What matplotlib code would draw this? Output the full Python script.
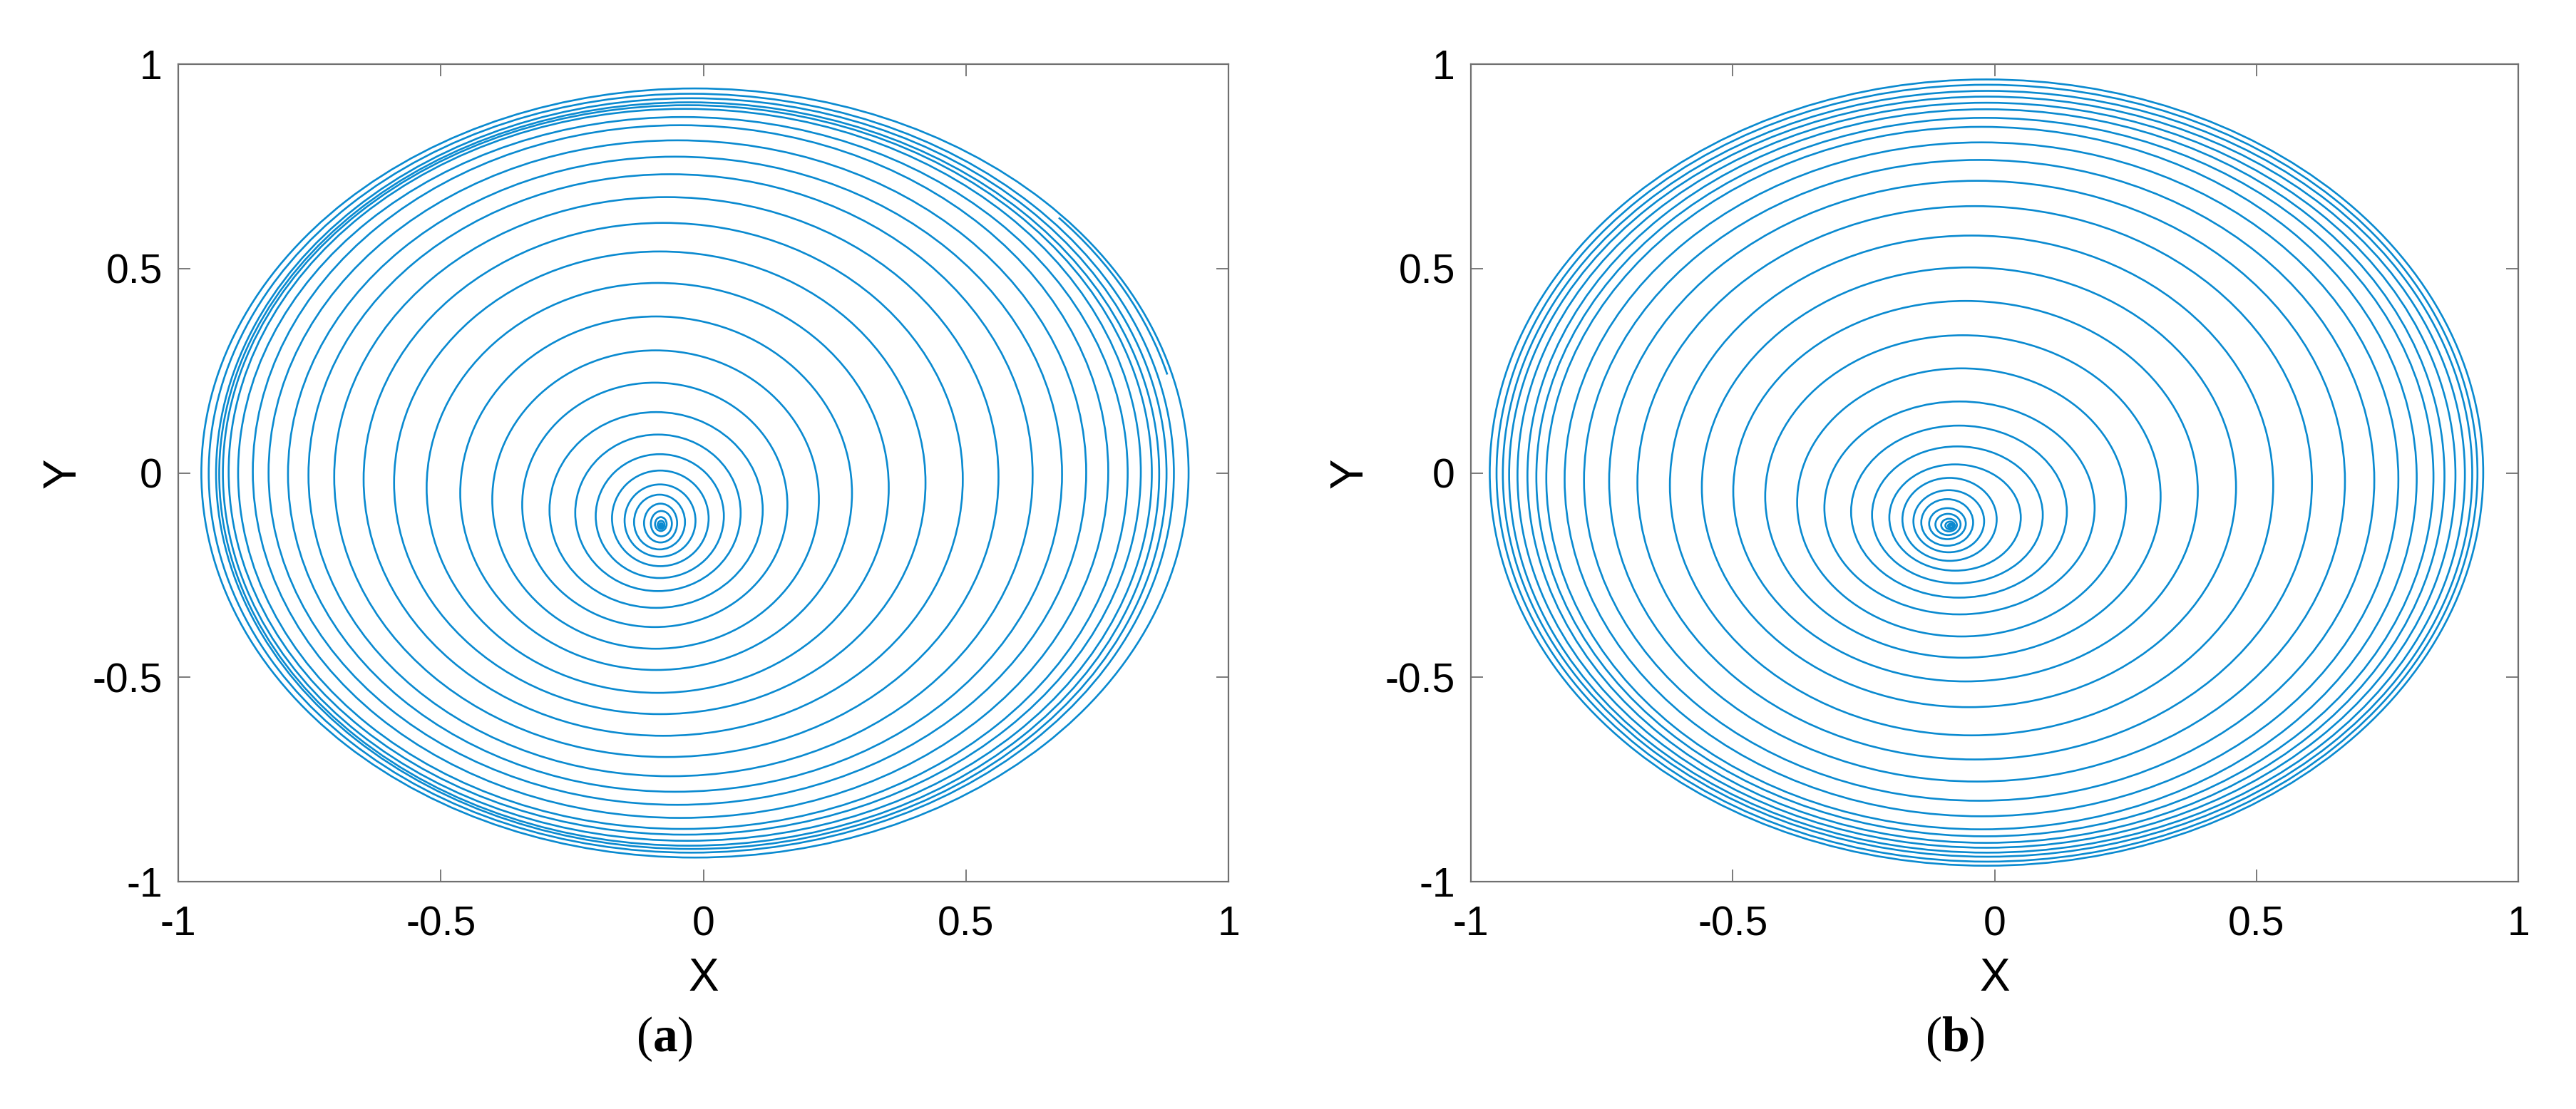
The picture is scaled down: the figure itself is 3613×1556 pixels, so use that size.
import numpy as np
import matplotlib
matplotlib.use('Agg')
import matplotlib.pyplot as plt
from matplotlib.patches import Ellipse, Arc

plt.rcParams['font.family'] = ['Liberation Sans', 'DejaVu Sans']
plt.rcParams['axes.unicode_minus'] = False
plt.rcParams['mathtext.fontset'] = 'custom'
plt.rcParams['mathtext.rm'] = 'Liberation Serif'
plt.rcParams['mathtext.bf'] = 'Liberation Serif:bold'

# ring crossings, outermost ring first
# (a)
a_right = [0.924, 0.896, 0.882, 0.868, 0.854, 0.833, 0.808, 0.771, 0.729, 0.683, 0.627, 0.562, 0.494, 0.423,
           0.353, 0.283, 0.220, 0.160, 0.113, 0.071, 0.039, 0.010, -0.015, -0.035, -0.050, -0.060, -0.070,
           -0.074, -0.077, -0.079]
a_left = [-0.956, -0.942, -0.928, -0.922, -0.915, -0.904, -0.886, -0.858, -0.828, -0.791, -0.752, -0.703, -0.647,
          -0.589, -0.527, -0.463, -0.402, -0.345, -0.293, -0.244, -0.205, -0.174, -0.150, -0.132, -0.113, -0.100,
          -0.092, -0.087, -0.084, -0.082]
a_top = [0.941, 0.928, 0.917, 0.907, 0.900, 0.891, 0.871, 0.851, 0.814, 0.774, 0.731, 0.675, 0.612, 0.542,
         0.465, 0.383, 0.300, 0.221, 0.149, 0.094, 0.046, 0.006, -0.028, -0.053, -0.075, -0.093, -0.108,
         -0.117, -0.123, -0.127]
a_bottom = [-0.941, -0.929, -0.920, -0.912, -0.900, -0.885, -0.871, -0.844, -0.812, -0.780, -0.742, -0.695, -0.643,
            -0.590, -0.538, -0.482, -0.430, -0.377, -0.330, -0.289, -0.257, -0.228, -0.205, -0.187, -0.170, -0.155,
            -0.142, -0.137, -0.134, -0.132]
# end of the trajectory in (a): ring extents (l, r, t, b) and angle range (deg)
a_tail = [-0.950, 0.915, 0.936, -0.937]
a_tail_ang = [15, 42]

# (b)
b_right = [0.933, 0.922, 0.912, 0.898, 0.880, 0.859, 0.838, 0.806, 0.771, 0.725, 0.669, 0.606, 0.532, 0.461,
           0.388, 0.317, 0.251, 0.191, 0.138, 0.092, 0.050, 0.004, -0.020, -0.041, -0.055, -0.065, -0.072,
           -0.076, -0.078, -0.080]
b_left = [-0.964, -0.951, -0.939, -0.927, -0.911, -0.892, -0.875, -0.856, -0.821, -0.784, -0.736, -0.682, -0.620,
          -0.559, -0.499, -0.438, -0.377, -0.325, -0.274, -0.234, -0.201, -0.176, -0.155, -0.140, -0.125, -0.113,
          -0.102, -0.094, -0.089, -0.086]
b_top = [0.963, 0.950, 0.935, 0.921, 0.906, 0.890, 0.869, 0.847, 0.809, 0.766, 0.715, 0.653, 0.581, 0.503,
         0.421, 0.337, 0.256, 0.175, 0.116, 0.065, 0.021, -0.012, -0.042, -0.064, -0.086, -0.100, -0.112,
         -0.119, -0.124, -0.127]
b_bottom = [-0.961, -0.951, -0.939, -0.929, -0.917, -0.905, -0.889, -0.872, -0.840, -0.802, -0.755, -0.701, -0.642,
            -0.573, -0.510, -0.452, -0.400, -0.346, -0.305, -0.270, -0.239, -0.215, -0.194, -0.178, -0.162, -0.152,
            -0.143, -0.138, -0.135, -0.133]

ticks = [-1, -0.5, 0, 0.5, 1]
tick_labels = ['-1', '-0.5', '0', '0.5', '1']
captions = ['a', 'b']

line_color = '#0a8ad0'
axis_color = '#707070'


def draw_panel(ax, left, right, top, bottom, ylab_x):
    for l, r, t, b in zip(left, right, top, bottom):
        ax.add_patch(Ellipse(((l + r) / 2, (t + b) / 2), r - l, t - b,
                             fill=False, ec=line_color, lw=1.9))
    ax.set_xlim(-1, 1)
    ax.set_ylim(-1, 1)
    ax.set_xticks(ticks)
    ax.set_xticklabels(tick_labels)
    ax.set_yticks(ticks)
    ax.set_yticklabels(tick_labels)
    ax.tick_params(direction='in', length=12, width=1.3, color=axis_color,
                   top=True, right=True, labelsize=41)
    ax.tick_params(axis='x', pad=24)
    ax.tick_params(axis='y', pad=16)
    for s in ax.spines.values():
        s.set_color(axis_color)
        s.set_linewidth(1.6)
    ax.set_xlabel('X', fontsize=46)
    ax.set_ylabel('Y', fontsize=46)
    ax.xaxis.set_label_coords(0.5, -0.092)
    ax.yaxis.set_label_coords(ylab_x, 0.5)


fig = plt.figure(figsize=(36.13, 15.56), dpi=100)
ax1 = fig.add_axes([0.0692, 0.205, 0.4077, 0.737])
ax2 = fig.add_axes([0.571, 0.205, 0.4066, 0.737])

draw_panel(ax1, a_left, a_right, a_top, a_bottom, -0.089)
l, r, t, b = a_tail
ax1.add_patch(Arc(((l + r) / 2, (t + b) / 2), r - l, t - b,
                  theta1=a_tail_ang[0], theta2=a_tail_ang[1], ec=line_color, lw=1.9))
draw_panel(ax2, b_left, b_right, b_top, b_bottom, -0.095)

fig.text(0.258, 0.063, r'$\mathrm{(}\mathbf{%s}\mathrm{)}$' % captions[0], fontsize=50, ha='center', va='center')
fig.text(0.759, 0.063, r'$\mathrm{(}\mathbf{%s}\mathrm{)}$' % captions[1], fontsize=50, ha='center', va='center')

fig.savefig('out.png', dpi=100)
